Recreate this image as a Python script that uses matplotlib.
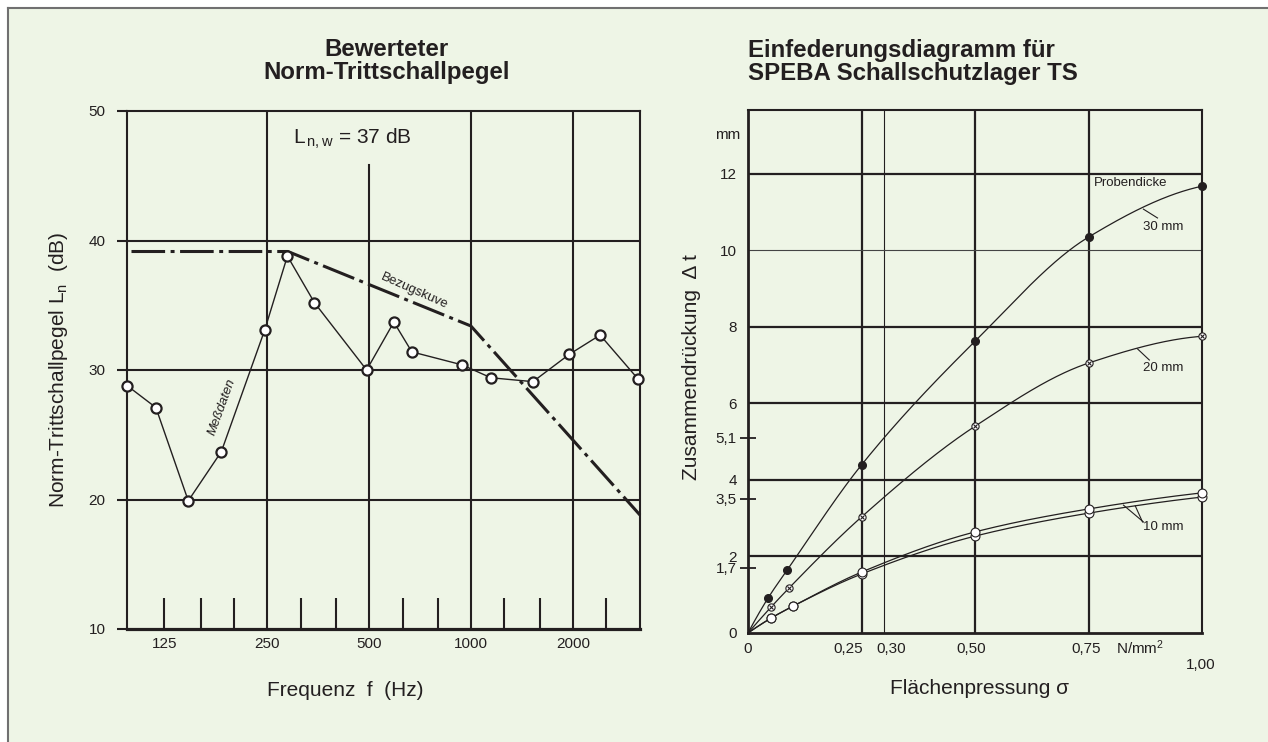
import numpy as np
import matplotlib
matplotlib.use('Agg')
import matplotlib.pyplot as plt
from matplotlib.lines import Line2D
from matplotlib.patches import Rectangle
from matplotlib.ticker import FixedLocator, NullFormatter, FixedFormatter

plt.rcParams['font.family'] = ['Liberation Sans', 'DejaVu Sans']
plt.rcParams['mathtext.fontset'] = 'custom'
plt.rcParams['mathtext.rm'] = 'Liberation Sans'
plt.rcParams['mathtext.it'] = 'Liberation Sans:italic'
plt.rcParams['mathtext.bf'] = 'Liberation Sans:bold'

# ---------------- data: left chart (Norm-Trittschallpegel) ----------------
meas_freq = [97, 118, 147, 184, 247, 288, 346, 493, 593, 670, 941, 1146, 1524, 1947, 2403, 3110]
meas_level = [28.8, 27.1, 19.9, 23.7, 33.1, 38.8, 35.2, 30.0, 33.7, 31.4, 30.4, 29.4, 29.1, 31.2, 32.7, 29.3]
ref_freq = [100, 289, 1000, 3150]
ref_level = [39.15, 39.15, 33.4, 18.8]
freq_major = [125, 250, 500, 1000, 2000]
freq_major_labels = ['125', '250', '500', '1000', '2000']
freq_grid = [250, 1000, 2000]
freq_short_grid = 500
short_grid_top = 45.8
freq_minor = [125, 160, 200, 315, 400, 630, 800, 1250, 1600, 2500]
level_ticks = [10, 20, 30, 40, 50]
level_grid = [20, 30, 40]

# ---------------- data: right chart (Einfederungsdiagramm) ----------------
s30 = [0, 0.044, 0.086, 0.25, 0.50, 0.75, 1.00]
d30 = [0, 0.91, 1.64, 4.39, 7.62, 10.34, 11.67]
s20 = [0, 0.051, 0.090, 0.25, 0.50, 0.75, 1.00]
d20 = [0, 0.68, 1.17, 3.03, 5.40, 7.05, 7.75]
s10 = [0, 0.051, 0.099, 0.25, 0.50, 0.75, 1.00]
d10_upper = [0, 0.39, 0.70, 1.59, 2.64, 3.24, 3.66]
d10_lower = [0, 0.39, 0.70, 1.54, 2.53, 3.13, 3.55]
dt_major = [0, 2, 4, 6, 8, 10, 12]
dt_major_labels = ['0', '2', '4', '6', '8', '10', '12']
dt_minor = [1.7, 3.5, 5.1]
dt_minor_labels = ['1,7', '3,5', '5,1']
dt_grid_thick = [2, 4, 6, 8, 12]
dt_grid_thin = [10]
sigma_grid_thick = [0.25, 0.50, 0.75]
sigma_grid_thin = [0.30]
sigma_ticks = [0, 0.25, 0.30, 0.50, 0.75, 1.00]
sigma_labels = ['0', '0,25', '0,30', '0,50', '0,75', '1,00']

ink = '#231f20'
bg = '#eef5e6'
W, H = 1268, 742


def fx(px):
    return px / W


def fy(py):
    return 1 - py / H


def pchip(x, y, xs):
    """Monotone cubic used only to draw a smooth line through the read points."""
    x = np.asarray(x, float)
    y = np.asarray(y, float)
    h = np.diff(x)
    d = np.diff(y) / h
    n = len(x)
    m = np.zeros(n)
    for k in range(1, n - 1):
        if d[k - 1] * d[k] > 0:
            w1 = 2 * h[k] + h[k - 1]
            w2 = h[k] + 2 * h[k - 1]
            m[k] = (w1 + w2) / (w1 / d[k - 1] + w2 / d[k])
    m[0] = ((2 * h[0] + h[1]) * d[0] - h[0] * d[1]) / (h[0] + h[1])
    if np.sign(m[0]) != np.sign(d[0]):
        m[0] = 0
    elif abs(m[0]) > abs(3 * d[0]):
        m[0] = 3 * d[0]
    m[-1] = ((2 * h[-1] + h[-2]) * d[-1] - h[-1] * d[-2]) / (h[-1] + h[-2])
    if np.sign(m[-1]) != np.sign(d[-1]):
        m[-1] = 0
    elif abs(m[-1]) > abs(3 * d[-1]):
        m[-1] = 3 * d[-1]
    idx = np.clip(np.searchsorted(x, xs) - 1, 0, n - 2)
    t = (xs - x[idx]) / h[idx]
    h00 = 2 * t**3 - 3 * t**2 + 1
    h10 = t**3 - 2 * t**2 + t
    h01 = -2 * t**3 + 3 * t**2
    h11 = t**3 - t**2
    return h00 * y[idx] + h10 * h[idx] * m[idx] + h01 * y[idx + 1] + h11 * h[idx] * m[idx + 1]


fig = plt.figure(figsize=(12.68, 7.42), dpi=100)
fig.patch.set_facecolor('white')
fig.add_artist(Rectangle((fx(8), 0), 1 - fx(8), fy(8), transform=fig.transFigure,
                         facecolor=bg, edgecolor='none', zorder=-10))
fig.add_artist(Line2D([fx(8), fx(8)], [0, fy(8)], color='#707070', lw=1.5))
fig.add_artist(Line2D([fx(8), 1], [fy(8), fy(8)], color='#707070', lw=1.5))

# ======================= left chart =======================
ax1 = fig.add_axes([fx(127), fy(629), (640 - 127) / W, (629 - 111) / H])
ax1.set_facecolor('none')
ax1.set_xscale('log')
ax1.set_xlim(97, 3150)
ax1.set_ylim(10, 50)
for sp in ax1.spines.values():
    sp.set_color(ink)
    sp.set_linewidth(1.5)
ax1.spines['bottom'].set_linewidth(2.3)

for f in freq_grid:
    ax1.axvline(f, color=ink, lw=1.5, zorder=1)
ax1.plot([freq_short_grid, freq_short_grid], [10, short_grid_top], color=ink, lw=1.5, zorder=1)
for v in level_grid:
    ax1.axhline(v, color=ink, lw=1.5, zorder=1)

ax1.set_yticks(level_ticks)
ax1.set_yticklabels([str(v) for v in level_ticks])
ax1.tick_params(axis='y', direction='out', length=7.5, width=1.5, pad=8,
                labelsize=11, color=ink, labelcolor=ink)
ax1.xaxis.set_major_locator(FixedLocator(freq_major))
ax1.xaxis.set_major_formatter(FixedFormatter(freq_major_labels))
ax1.xaxis.set_minor_locator(FixedLocator(freq_minor))
ax1.xaxis.set_minor_formatter(NullFormatter())
ax1.xaxis.remove_overlapping_locs = False
ax1.tick_params(axis='x', which='major', length=0, pad=6, labelsize=11, labelcolor=ink)
ax1.tick_params(axis='x', which='minor', direction='in', length=22.5, width=1.5, color=ink)

ax1.plot(ref_freq, ref_level, color=ink, lw=2.2, linestyle=(0, (11, 1.8, 1.3, 1.8)),
         zorder=3, clip_on=False)
ax1.plot(meas_freq, meas_level, color=ink, lw=1.0, marker='o', ms=7.3, mfc='white',
         mec=ink, mew=1.6, zorder=5, clip_on=False)

ax1.text(0.3236, 0.936, r"L$_{\,\mathrm{n,w}}$ = 37 dB", transform=ax1.transAxes,
         fontsize=15, ha='left', va='baseline', color=ink)
ax1.text(0.561, 0.652, 'Bezugskuve', transform=ax1.transAxes, rotation=-24,
         fontsize=9.5, ha='center', va='center', color=ink, rotation_mode='anchor')
ax1.text(0.185, 0.4286, 'Meßdaten', transform=ax1.transAxes, rotation=70,
         fontsize=9.5, style='italic', ha='center', va='center', color=ink,
         rotation_mode='anchor')

fig.text(fx(387), fy(61), 'Bewerteter\nNorm-Trittschallpegel', ha='center', va='center',
         fontsize=17.3, fontweight='bold', linespacing=1.02, color=ink)
fig.text(fx(58), fy(370), r"Norm-Trittschallpegel L$_{\mathrm{n}}$  (dB)", rotation=90,
         ha='center', va='center', fontsize=15, color=ink)
fig.text(fx(345), fy(690), 'Frequenz  f  (Hz)', ha='center', va='center', fontsize=15,
         color=ink)

# ======================= right chart =======================
ax2 = fig.add_axes([fx(748), fy(633), (1202 - 748) / W, (633 - 110) / H])
ax2.set_facecolor('none')
ax2.set_xlim(0, 1.0)
ax2.set_ylim(0, 13.66)
for sp in ax2.spines.values():
    sp.set_color(ink)
    sp.set_linewidth(1.5)
ax2.spines['left'].set_linewidth(2.0)
ax2.spines['bottom'].set_linewidth(2.0)

for v in sigma_grid_thick:
    ax2.axvline(v, color=ink, lw=1.6, zorder=1)
for v in sigma_grid_thin:
    ax2.axvline(v, color=ink, lw=0.8, zorder=1)
for v in dt_grid_thick:
    ax2.axhline(v, color=ink, lw=1.6, zorder=1)
for v in dt_grid_thin:
    ax2.axhline(v, color='#444444', lw=0.8, zorder=1)

ax2.yaxis.set_major_locator(FixedLocator(dt_major))
ax2.yaxis.set_major_formatter(FixedFormatter(dt_major_labels))
ax2.yaxis.set_minor_locator(FixedLocator(dt_minor))
ax2.yaxis.set_minor_formatter(FixedFormatter(dt_minor_labels))
ax2.tick_params(axis='y', which='major', length=0, pad=8, labelsize=11, labelcolor=ink)
ax2.tick_params(axis='y', which='minor', direction='inout', length=12, width=1.3,
                pad=2, labelsize=11, color=ink, labelcolor=ink)
ax2.set_xticks([])

x_offsets = [0, -13, 7, -4, -2, -1]
y_offsets = [-16, -16, -16, -16, -16, -32]
for val, lab, dx, dy in zip(sigma_ticks, sigma_labels, x_offsets, y_offsets):
    ax2.annotate(lab, xy=(val, 0), xycoords=('data', 'axes fraction'),
                 xytext=(dx, dy), textcoords='offset pixels', ha='center', va='center',
                 fontsize=11, color=ink, annotation_clip=False)
ax2.annotate(r'N/mm$^2$', xy=(0.864, 0), xycoords=('data', 'axes fraction'),
             xytext=(0, -15), textcoords='offset pixels', ha='center', va='center',
             fontsize=11, color=ink, annotation_clip=False)

xs = np.linspace(0, 1.0, 400)
ax2.plot(xs, pchip(s30, d30, xs), color=ink, lw=0.9, zorder=3, clip_on=False)
ax2.plot(xs, pchip(s20, d20, xs), color=ink, lw=0.9, zorder=3, clip_on=False)
ax2.plot(xs, pchip(s10, d10_upper, xs), color=ink, lw=0.9, zorder=3, clip_on=False)
ax2.plot(xs, pchip(s10, d10_lower, xs), color=ink, lw=0.9, zorder=3, clip_on=False)

ax2.plot(s30[1:], d30[1:], 'o', ms=5.5, color=ink, zorder=5, clip_on=False)
ax2.plot(s20[1:], d20[1:], 'o', ms=5.2, mfc='white', mec=ink, mew=0.8, zorder=5, clip_on=False)
ax2.plot(s20[1:], d20[1:], 'x', ms=3.4, mec=ink, mew=0.8, zorder=6, clip_on=False)
ax2.plot(s10[1:], d10_lower[1:], 'o', ms=6.4, mfc='white', mec=ink, mew=0.8, zorder=5, clip_on=False)
ax2.plot(s10[1:], d10_upper[1:], 'o', ms=6.4, mfc='white', mec=ink, mew=0.8, zorder=5, clip_on=False)

ax2.text(0.761, 11.75, 'Probendicke', fontsize=9.5, ha='left', va='center', color=ink)
ax2.text(0.869, 10.6, '30 mm', fontsize=9.5, ha='left', va='center', color=ink)
ax2.plot([0.871, 0.902], [11.07, 10.84], color=ink, lw=0.8)
ax2.text(0.871, 6.92, '20 mm', fontsize=9.5, ha='left', va='center', color=ink)
ax2.plot([0.858, 0.884], [7.42, 7.13], color=ink, lw=0.8)
ax2.text(0.869, 2.77, '10 mm', fontsize=9.5, ha='left', va='center', color=ink)
ax2.plot([0.827, 0.871], [3.34, 2.90], color=ink, lw=0.8)
ax2.plot([0.853, 0.869], [3.32, 2.90], color=ink, lw=0.8)

fig.text(fx(748), fy(62), 'Einfederungsdiagramm für\nSPEBA Schallschutzlager TS',
         ha='left', va='center', fontsize=17.3, fontweight='bold', linespacing=1.02,
         color=ink)
fig.text(fx(740), fy(135), 'mm', ha='right', va='center', fontsize=11, color=ink)
fig.text(fx(691), fy(367), 'Zusammendrückung  Δ t', rotation=90, ha='center',
         va='center', fontsize=15, color=ink)
fig.text(fx(980), fy(688), 'Flächenpressung σ', ha='center', va='center', fontsize=15,
         color=ink)

fig.savefig('out.png', dpi=100, facecolor=fig.get_facecolor())
